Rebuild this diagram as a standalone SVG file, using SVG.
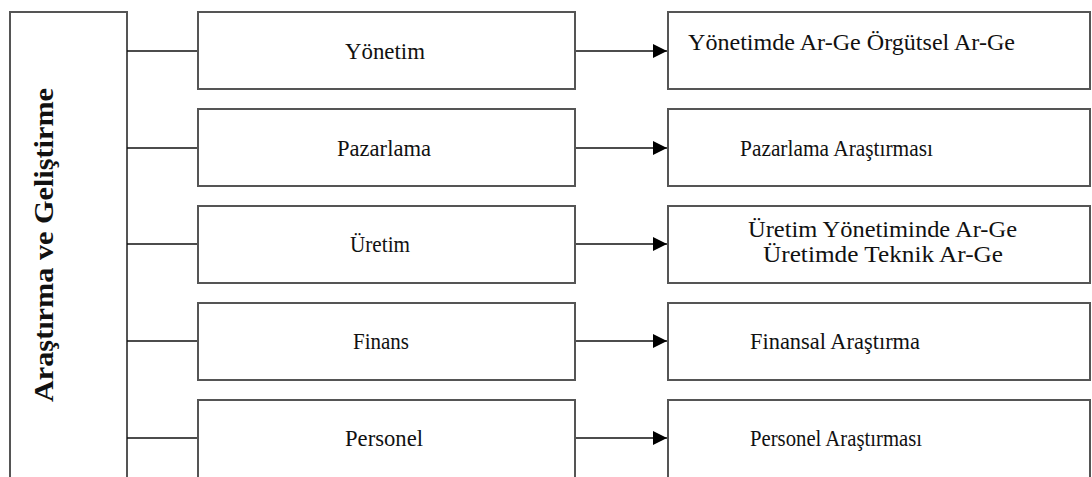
<svg xmlns="http://www.w3.org/2000/svg" width="1092" height="477" viewBox="0 0 1092 477">
  <defs>
    <style>
      .box { fill: #ffffff; stroke: #555555; stroke-width: 2; }
      .link { fill: none; stroke: #111111; stroke-width: 1.5; }
      .lbl { font-family: "Liberation Serif", "Times New Roman", serif; font-size: 23px; fill: #111111; }
      .mid { text-anchor: middle; }
      .title { font-family: "Liberation Serif", "Times New Roman", serif; font-size: 28px; font-weight: bold; fill: #111111; text-anchor: middle; }
    </style>
    <marker id="arrow" viewBox="0 0 14 14" refX="14" refY="7" markerWidth="14" markerHeight="14" markerUnits="userSpaceOnUse" orient="auto">
      <path d="M0,0 L14,7 L0,14 Z" fill="#000000"/>
    </marker>
  </defs>

  <rect width="1092" height="477" fill="#ffffff"/>

  <!-- main category column, open at the bottom -->
  <g id="root">
    <path class="box" d="M10,490 L10,12 L127,12 L127,490"/>
    <text class="title" transform="translate(53,245) rotate(-90)" textLength="314" lengthAdjust="spacingAndGlyphs">Araştırma ve Geliştirme</text>
  </g>

  <!-- connectors -->
  <g id="connectors">
    <line class="link" x1="127" y1="51" x2="198" y2="51"/>
    <line class="link" x1="127" y1="148" x2="198" y2="148"/>
    <line class="link" x1="127" y1="244" x2="198" y2="244"/>
    <line class="link" x1="127" y1="341" x2="198" y2="341"/>
    <line class="link" x1="127" y1="438" x2="198" y2="438"/>
    <line class="link" x1="575" y1="51" x2="667" y2="51" marker-end="url(#arrow)"/>
    <line class="link" x1="575" y1="148" x2="667" y2="148" marker-end="url(#arrow)"/>
    <line class="link" x1="575" y1="244" x2="667" y2="244" marker-end="url(#arrow)"/>
    <line class="link" x1="575" y1="341" x2="667" y2="341" marker-end="url(#arrow)"/>
    <line class="link" x1="575" y1="438" x2="667" y2="438" marker-end="url(#arrow)"/>
  </g>

  <!-- functional areas -->
  <g id="yonetim">
    <rect class="box" x="198" y="12" width="377" height="77"/>
    <text class="lbl mid" x="385" y="59" textLength="80" lengthAdjust="spacingAndGlyphs">Yönetim</text>
  </g>
  <g id="pazarlama">
    <rect class="box" x="198" y="109" width="377" height="77"/>
    <text class="lbl mid" x="384" y="156" textLength="94" lengthAdjust="spacingAndGlyphs">Pazarlama</text>
  </g>
  <g id="uretim">
    <rect class="box" x="198" y="206" width="377" height="77"/>
    <text class="lbl mid" x="380" y="252" textLength="60" lengthAdjust="spacingAndGlyphs">Üretim</text>
  </g>
  <g id="finans">
    <rect class="box" x="198" y="303" width="377" height="77"/>
    <text class="lbl mid" x="381" y="349" textLength="56" lengthAdjust="spacingAndGlyphs">Finans</text>
  </g>
  <g id="personel">
    <path class="box" d="M198,490 L198,400 L575,400 L575,490"/>
    <text class="lbl mid" x="384" y="446" textLength="78" lengthAdjust="spacingAndGlyphs">Personel</text>
  </g>

  <!-- research types -->
  <g id="yonetim-arge">
    <rect class="box" x="668" y="12" width="422" height="77"/>
    <text class="lbl" x="688" y="50" textLength="327" lengthAdjust="spacingAndGlyphs">Yönetimde Ar-Ge Örgütsel Ar-Ge</text>
  </g>
  <g id="pazarlama-arastirmasi">
    <rect class="box" x="668" y="109" width="422" height="77"/>
    <text class="lbl" x="740" y="156" textLength="193" lengthAdjust="spacingAndGlyphs">Pazarlama Araştırması</text>
  </g>
  <g id="uretim-arge">
    <rect class="box" x="668" y="206" width="422" height="77"/>
    <text class="lbl" x="748" y="237" textLength="269" lengthAdjust="spacingAndGlyphs">Üretim Yönetiminde Ar-Ge</text>
    <text class="lbl" x="763" y="262" textLength="240" lengthAdjust="spacingAndGlyphs">Üretimde Teknik Ar-Ge</text>
  </g>
  <g id="finansal-arastirma">
    <rect class="box" x="668" y="303" width="422" height="77"/>
    <text class="lbl" x="750" y="349" textLength="170" lengthAdjust="spacingAndGlyphs">Finansal Araştırma</text>
  </g>
  <g id="personel-arastirmasi">
    <path class="box" d="M668,490 L668,400 L1090,400 L1090,490"/>
    <text class="lbl" x="750" y="446" textLength="172" lengthAdjust="spacingAndGlyphs">Personel Araştırması</text>
  </g>
</svg>
